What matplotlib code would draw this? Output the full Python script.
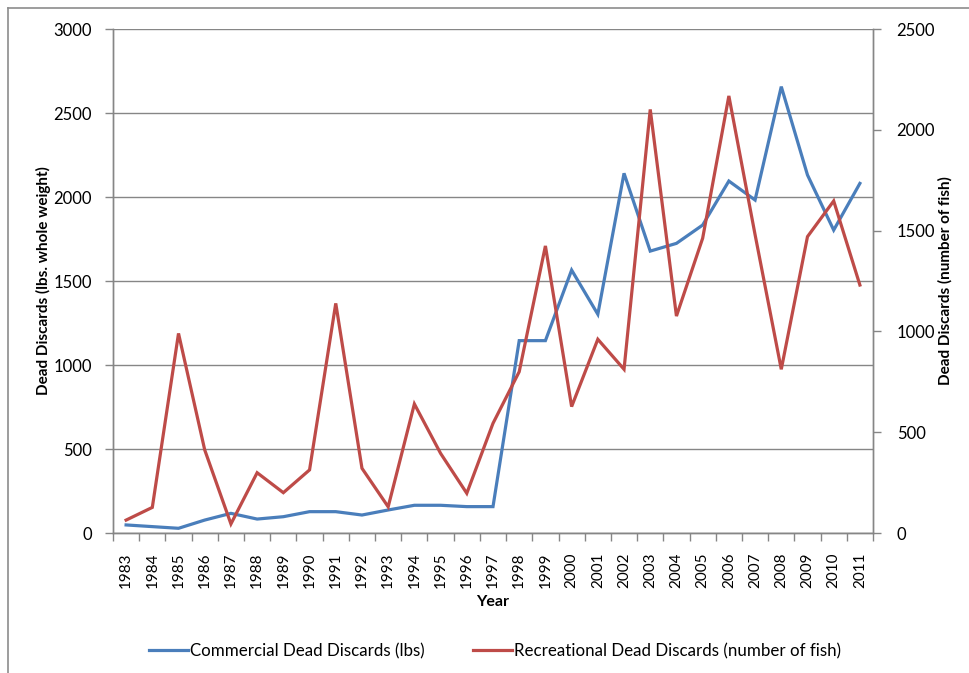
import matplotlib
matplotlib.use("Agg")
import matplotlib.pyplot as plt
from matplotlib.lines import Line2D
import numpy as np

plt.rcParams['font.family'] = ['Lato', 'DejaVu Sans']

years = [str(y) for y in range(1983, 2012)]
commercial_lbs = [48, 38, 28, 77, 117, 83, 97, 127, 127, 107, 137, 165, 165, 157, 157,
                  1145, 1145, 1565, 1302, 2141, 1678, 1724, 1833, 2095, 1982, 2657, 2131, 1803, 2081]
recreational_fish = [64, 127, 990, 412, 45, 299, 200, 313, 1139, 321, 130, 640, 395, 197, 544,
                     800, 1424, 627, 961, 812, 2101, 1076, 1462, 2168, 1480, 812, 1470, 1647, 1230]
left_ticks = [0, 500, 1000, 1500, 2000, 2500, 3000]
right_ticks = [0, 500, 1000, 1500, 2000, 2500]

W, H = 969, 673
fig = plt.figure(figsize=(W / 100, H / 100), dpi=100)
fig.patch.set_facecolor('white')

grid_col = '#868686'
blue = '#4A7EBB'
red = '#BE4B48'

# outer frame (top and left visible)
fig.add_artist(Line2D([8 / W, 1.0], [1 - 8 / H, 1 - 8 / H], color='#8c8c8c', lw=1.2))
fig.add_artist(Line2D([8 / W, 8 / W], [0, 1 - 8 / H], color='#8c8c8c', lw=1.2))

left, right, top, bottom = 113, 873, 29, 533
ax = fig.add_axes([left / W, 1 - bottom / H, (right - left) / W, (bottom - top) / H])
ax2 = ax.twinx()

x = np.arange(len(years))
ax.plot(x, commercial_lbs, color=blue, lw=2.3, solid_joinstyle='miter', zorder=3)
ax2.plot(x, recreational_fish, color=red, lw=2.3, solid_joinstyle='miter', zorder=3)

ax.set_xlim(-0.5, len(years) - 0.5)
ax.set_ylim(0, 3000)
ax2.set_ylim(0, 2500)
ax.set_yticks(left_ticks)
ax2.set_yticks(right_ticks)
ax.yaxis.grid(True, color=grid_col, lw=1)
ax.set_axisbelow(True)

ax.set_xticks(x)
ax.set_xticklabels(years, rotation=90, fontsize=11)
ax.set_xticks(np.arange(-0.5, len(years)), minor=True)
ax.tick_params(axis='x', which='major', length=0, pad=14)
ax.tick_params(axis='x', which='minor', length=6, color=grid_col, width=1)
ax.tick_params(axis='y', length=6, color=grid_col, width=1, labelsize=12, pad=9)
ax2.tick_params(axis='y', length=6, color=grid_col, width=1, labelsize=12, pad=11)

for a in (ax, ax2):
    a.spines['top'].set_visible(False)
    for s in ('left', 'right', 'bottom'):
        a.spines[s].set_color(grid_col)
        a.spines[s].set_linewidth(1)

ax.set_ylabel('Dead Discards (lbs. whole weight)', fontsize=11, fontweight='bold', labelpad=2)
ax2.set_ylabel('Dead Discards (number of fish)', fontsize=11, fontweight='bold', labelpad=2)
ax.set_xlabel('Year', fontsize=11.5, fontweight='bold', labelpad=5)

handles = [Line2D([], [], color=blue, lw=2.3), Line2D([], [], color=red, lw=2.3)]
fig.legend(handles, ['Commercial Dead Discards (lbs)', 'Recreational Dead Discards (number of fish)'],
           loc='center', bbox_to_anchor=(495 / W, 1 - 651 / H), ncol=2, frameon=False,
           fontsize=12.2, handlelength=2.3, handletextpad=0.15, columnspacing=2.8)

fig.savefig('out.png', dpi=100, facecolor='white')
